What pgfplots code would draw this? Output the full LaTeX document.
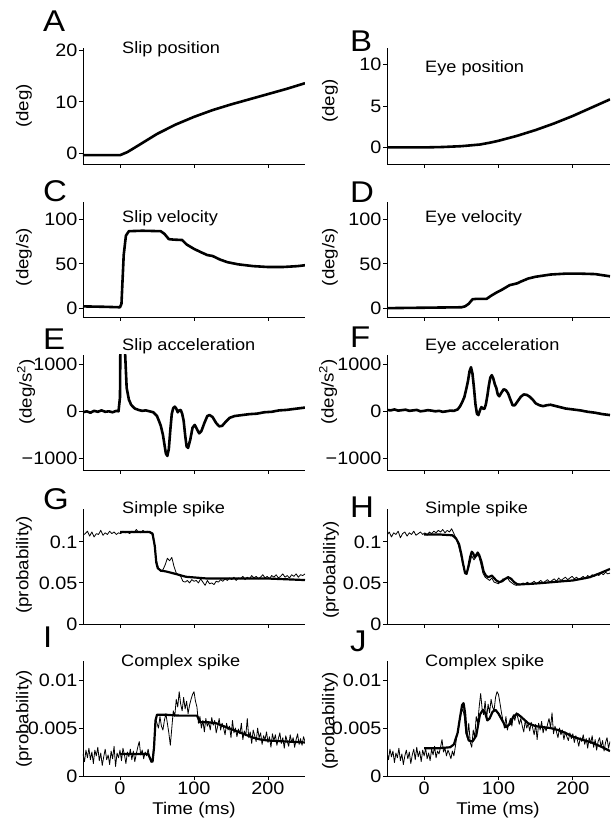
\documentclass[border=0pt]{standalone}
\usepackage{fontspec}
\setmainfont{Liberation Sans}[FakeStretch=1.1]
\usepackage{pgfplots}
\pgfplotsset{compat=1.18}
\pgfplotsset{panel/.style={
  scale only axis, width=222pt, height=115pt, xmin=-50, xmax=250,
  anchor=south west,
  axis x line=bottom, axis y line=left,
  axis line style={-, line width=0.9pt},
  every outer x axis line/.append style={-},
  every outer y axis line/.append style={-},
  xtick={0,100,200}, xticklabels={},
  scaled y ticks=false, scaled x ticks=false,
  tick align=outside, major tick length=4pt,
  tick style={line width=0.9pt, black},
  tick label style={font=\fontsize{18}{18}\selectfont},
  yticklabel style={inner sep=1.5pt},
  xticklabel style={inner sep=2pt},
  /pgf/number format/assume math mode=true,
  clip=true,
}, main/.style={black, no markers, line width=2.6pt, line join=round},
   mainb/.style={black, no markers, line width=2.2pt, line join=round},
   thin/.style={black, no markers, line width=0.8pt, line join=round}}
\begin{document}
\begin{tikzpicture}
\useasboundingbox (0pt,0pt) rectangle (611pt,825pt);
% ---------- A
\begin{axis}[panel, at={(83pt,661pt)}, height=116pt, ymin=-2, ymax=20.4, ytick={0,10,20}, yticklabels={0,10,20}]
\addplot[main] coordinates {(-50,-0.3) (0,-0.3) (10,0.3) (25,1.6) (50,3.8) (75,5.6) (100,7.1) (125,8.4) (150,9.5) (175,10.5) (200,11.5) (225,12.5) (250,13.6)};
\end{axis}
% ---------- B
\begin{axis}[panel, at={(387pt,661pt)}, width=223pt, height=116pt, ymin=-2, ymax=12, ytick={0,5,10}, yticklabels={0,5,10}]
\addplot[main] coordinates {(-50,0) (0,0) (25,0.05) (50,0.15) (75,0.35) (90,0.6) (100,0.8) (125,1.4) (150,2.1) (175,2.9) (200,3.8) (225,4.8) (250,5.8)};
\end{axis}
% ---------- C
\begin{axis}[panel, at={(83pt,508pt)}, ymin=-10, ymax=120, ytick={0,50,100}, yticklabels={0,50,100}]
\addplot[main] coordinates {(-50,2) (-20,1.5) (0,1) (2,5) (5,60) (8,82) (12,87) (30,87.5) (55,87) (60,84) (66,78) (72,77.5) (84,77) (90,72) (100,67) (110,63) (118,60) (125,59) (135,55) (145,52) (160,49.5) (180,47.5) (200,46.5) (220,46.5) (240,47.5) (250,48.5)};
\end{axis}
% ---------- D
\begin{axis}[panel, at={(387pt,508pt)}, width=223pt, ymin=-10, ymax=120, ytick={0,50,100}, yticklabels={0,50,100}]
\addplot[main] coordinates {(-50,0) (0,0.5) (50,1) (55,2) (60,5) (65,10) (70,10.5) (84,10.5) (90,14) (97,17.5) (105,21) (115,26) (125,28) (130,30) (140,33.5) (150,35.5) (170,38) (190,39) (210,39) (230,38.5) (250,36)};
\end{axis}
% ---------- E
\begin{axis}[panel, at={(83pt,355pt)}, ymin=-1250, ymax=1200, ytick={-1000,0,1000}, yticklabels={−1000,0,1000}]
\addplot[main] coordinates {(-50,-20) (-45,0) (-40,-30) (-35,10) (-30,-10) (-25,20) (-20,-10) (-15,0) (-10,-20) (-5,10) (-2,0) (0,300) (1,2500) (3,4000) (5,2500) (7,1200) (9,500) (12,250) (15,140) (20,60) (25,30) (30,10) (35,20) (40,0) (45,-20) (50,-100) (55,-300) (58,-500) (62,-900) (64,-950) (66,-800) (68,-400) (70,-50) (72,70) (74,100) (76,60) (78,-20) (80,20) (82,30) (84,-50) (86,-200) (88,-500) (90,-750) (92,-780) (95,-600) (98,-350) (101,-290) (104,-380) (107,-470) (110,-420) (114,-250) (118,-100) (121,-80) (125,-120) (130,-250) (134,-320) (138,-310) (143,-220) (148,-140) (155,-100) (165,-80) (175,-60) (185,-50) (195,-20) (205,-10) (215,20) (225,30) (235,50) (245,70) (250,80)};
\end{axis}
% ---------- F
\begin{axis}[panel, at={(387pt,355pt)}, width=223pt, ymin=-1250, ymax=1200, ytick={-1000,0,1000}, yticklabels={−1000,0,1000}]
\addplot[main] coordinates {(-50,30) (-45,20) (-40,40) (-35,15) (-30,25) (-25,35) (-20,10) (-15,20) (-10,30) (-5,0) (0,10) (5,25) (10,15) (15,0) (20,10) (25,-10) (30,0) (35,15) (40,10) (45,40) (48,100) (51,190) (54,300) (57,500) (59,650) (61,850) (63,940) (65,800) (67,500) (69,150) (71,-50) (73,-80) (75,20) (77,90) (79,60) (81,50) (83,150) (85,330) (87,550) (89,720) (91,770) (93,700) (95,580) (97,500) (99,360) (101,320) (104,400) (107,470) (110,450) (113,380) (116,250) (119,130) (122,130) (126,220) (130,310) (134,360) (138,350) (142,310) (146,250) (150,170) (155,130) (160,110) (165,130) (170,140) (175,120) (180,100) (185,80) (190,60) (200,40) (210,20) (220,-10) (230,-30) (240,-60) (250,-80)};
\end{axis}
% ---------- G
\begin{axis}[panel, at={(83pt,201pt)}, ymin=0, ymax=0.14, ytick={0,0.05,0.1}, yticklabels={0,0.05,0.1}]
\addplot[thin] coordinates {(-50,.108) (-47,.110) (-44,.113) (-41,.107) (-38,.112) (-35,.106) (-32,.110) (-29,.109) (-26,.114) (-23,.108) (-20,.111) (-17,.109) (-14,.113) (-11,.110) (-8,.112) (-5,.109) (-2,.111) (1,.110) (4,.113) (7,.111) (10,.112) (13,.110) (16,.113) (19,.111) (22,.115) (25,.112) (28,.111) (31,.114) (34,.112) (37,.113) (40,.111) (43,.110) (46,.100) (49,.078) (52,.068) (55,.064) (58,.066) (61,.072) (64,.080) (67,.077) (70,.081) (73,.070) (76,.062) (79,.060) (82,.058) (85,.052) (88,.051) (91,.053) (94,.050) (97,.054) (100,.052) (103,.053) (106,.050) (109,.055) (112,.051) (115,.047) (118,.053) (121,.049) (124,.050) (127,.048) (130,.052) (133,.051) (136,.054) (139,.052) (142,.055) (145,.053) (148,.056) (151,.054) (154,.057) (157,.053) (160,.056) (163,.055) (166,.058) (169,.054) (172,.057) (175,.055) (178,.059) (181,.056) (184,.058) (187,.055) (190,.057) (193,.060) (196,.056) (199,.058) (202,.055) (205,.059) (208,.057) (211,.060) (214,.056) (217,.058) (220,.061) (223,.057) (226,.059) (229,.056) (232,.060) (235,.058) (238,.061) (241,.057) (244,.060) (247,.059) (250,.061)};
\addplot[mainb] coordinates {(0,.112) (40,.112) (44,.110) (47,.095) (49,.075) (51,.068) (55,.065) (62,.064) (75,.061) (89,.0575) (116,.0555) (150,.0555) (196,.0555) (250,.0535)};
\end{axis}
% ---------- H
\begin{axis}[panel, at={(387pt,201pt)}, width=223pt, ymin=0, ymax=0.14, ytick={0,0.05,0.1}, yticklabels={0,0.05,0.1}]
\addplot[thin] coordinates {(-50,.108) (-47,.112) (-44,.106) (-41,.111) (-38,.109) (-35,.113) (-32,.105) (-29,.110) (-26,.112) (-23,.107) (-20,.111) (-17,.109) (-14,.113) (-11,.108) (-8,.110) (-5,.112) (-2,.109) (1,.111) (4,.108) (7,.112) (10,.110) (13,.113) (16,.111) (19,.114) (22,.112) (25,.115) (28,.111) (31,.114) (34,.112) (37,.116) (40,.110) (43,.104) (46,.096) (49,.085) (52,.072) (55,.064) (58,.063) (61,.072) (64,.083) (67,.078) (70,.082) (73,.084) (76,.074) (79,.062) (82,.057) (85,.055) (88,.053) (91,.056) (94,.051) (97,.050) (100,.049) (103,.052) (106,.055) (109,.054) (112,.056) (115,.052) (118,.050) (121,.048) (124,.047) (127,.049) (130,.048) (133,.050) (136,.049) (139,.051) (142,.048) (145,.050) (148,.052) (151,.049) (154,.051) (157,.053) (160,.050) (163,.052) (166,.054) (169,.051) (172,.053) (175,.055) (178,.052) (181,.056) (184,.053) (187,.055) (190,.057) (193,.054) (196,.056) (199,.058) (202,.055) (205,.057) (208,.054) (211,.056) (214,.058) (217,.055) (220,.059) (223,.057) (226,.060) (229,.058) (232,.061) (235,.059) (238,.062) (241,.060) (244,.063) (247,.061) (250,.062)};
\addplot[mainb] coordinates {(0,.109) (20,.109) (38,.108) (43,.104) (47,.097) (50,.085) (52,.075) (55,.062) (57,.061) (59,.068) (62,.082) (64,.088) (66,.086) (68,.081) (70,.084) (72,.087) (74,.084) (77,.076) (80,.064) (83,.059) (86,.057) (89,.058) (91,.059) (94,.056) (97,.053) (101,.051) (105,.052) (109,.055) (113,.057) (117,.055) (121,.051) (126,.048) (135,.0485) (146,.049) (160,.050) (173,.051) (186,.052) (200,.053) (212,.055) (223,.057) (237,.062) (250,.067)};
\end{axis}
% ---------- I
\begin{axis}[panel, at={(83pt,49pt)}, ymin=0, ymax=0.012, ytick={0,0.005,0.01}, yticklabels={0,0.005,0.01}, xticklabels={0,100,200}]
\addplot[thin] coordinates {(-50,.0023) (-48,.0015) (-46,.0027) (-44,.0019) (-42,.0029) (-40,.0017) (-38,.0025) (-36,.0013) (-34,.0027) (-32,.0021) (-30,.0030) (-28,.0016) (-26,.0024) (-24,.0011) (-22,.0020) (-20,.0028) (-18,.0017) (-16,.0022) (-14,.0012) (-12,.0026) (-10,.0018) (-8,.0031) (-6,.0010) (-4,.0024) (-2,.0019) (0,.0027) (2,.0016) (4,.0029) (6,.0022) (8,.0013) (10,.0025) (12,.0020) (14,.0028) (16,.0017) (18,.0026) (20,.0015) (22,.0023) (24,.0030) (26,.0036) (28,.0022) (30,.0027) (32,.0018) (34,.0025) (36,.0021) (38,.0028) (40,.0019) (42,.0014) (44,.0016) (46,.0035) (48,.0060) (50,.0055) (52,.0050) (54,.0062) (56,.0052) (58,.0048) (60,.0058) (62,.0065) (64,.0055) (66,.0045) (68,.0032) (70,.0050) (72,.0068) (74,.0062) (76,.0080) (78,.0072) (80,.0088) (82,.0075) (84,.0068) (86,.0082) (88,.0070) (90,.0078) (92,.0065) (94,.0074) (96,.0080) (98,.0085) (100,.0088) (102,.0078) (104,.0072) (106,.0055) (108,.0062) (110,.0050) (112,.0058) (114,.0046) (116,.0060) (118,.0052) (120,.0056) (122,.0048) (124,.0061) (126,.0053) (128,.0058) (130,.0045) (132,.0052) (134,.0060) (136,.0048) (138,.0055) (140,.0050) (142,.0043) (144,.0055) (146,.0048) (148,.0052) (150,.0040) (152,.0058) (154,.0045) (156,.0050) (158,.0041) (160,.0049) (162,.0044) (164,.0055) (166,.0038) (168,.0047) (170,.0042) (172,.0060) (174,.0040) (176,.0046) (178,.0034) (180,.0048) (182,.0042) (184,.0036) (186,.0050) (188,.0040) (190,.0045) (192,.0033) (194,.0042) (196,.0038) (198,.0046) (200,.0035) (202,.0041) (204,.0030) (206,.0044) (208,.0037) (210,.0043) (212,.0032) (214,.0039) (216,.0045) (218,.0034) (220,.0040) (222,.0029) (224,.0042) (226,.0036) (228,.0031) (230,.0043) (232,.0035) (234,.0040) (236,.0030) (238,.0038) (240,.0044) (242,.0033) (244,.0039) (246,.0032) (248,.0041) (250,.0036)};
\addplot[mainb] coordinates {(0,.0023) (20,.0023) (38,.0023) (42,.0016) (44,.0015) (46,.0030) (48,.0058) (50,.0064) (60,.0064) (80,.0063) (104,.0063) (106,.0060) (108,.0056) (120,.0056) (130,.0055) (140,.0052) (150,.0049) (160,.0046) (170,.0043) (180,.0040) (190,.0038) (200,.0037) (225,.0036) (250,.0035)};
\end{axis}
% ---------- J
\begin{axis}[panel, at={(387pt,49pt)}, width=223pt, ymin=0, ymax=0.012, ytick={0,0.005,0.01}, yticklabels={0,0.005,0.01}, xticklabels={0,100,200}]
\addplot[thin] coordinates {(-50,.0025) (-48,.0017) (-46,.0028) (-44,.0020) (-42,.0026) (-40,.0014) (-38,.0024) (-36,.0019) (-34,.0029) (-32,.0016) (-30,.0023) (-28,.0012) (-26,.0021) (-24,.0027) (-22,.0018) (-20,.0025) (-18,.0013) (-16,.0022) (-14,.0028) (-12,.0017) (-10,.0030) (-8,.0020) (-6,.0026) (-4,.0015) (-2,.0027) (0,.0021) (2,.0029) (4,.0018) (6,.0024) (8,.0016) (10,.0028) (12,.0022) (14,.0031) (16,.0019) (18,.0026) (20,.0023) (22,.0030) (24,.0038) (26,.0025) (28,.0029) (30,.0021) (32,.0027) (34,.0023) (36,.0018) (38,.0026) (40,.0021) (42,.0031) (44,.0042) (46,.0050) (48,.0060) (50,.0066) (52,.0070) (54,.0062) (56,.0045) (58,.0040) (60,.0055) (62,.0035) (64,.0030) (66,.0048) (68,.0040) (70,.0062) (72,.0055) (74,.0072) (76,.0086) (78,.0070) (80,.0064) (82,.0078) (84,.0060) (86,.0075) (88,.0066) (90,.0080) (92,.0072) (94,.0068) (96,.0082) (98,.0088) (100,.0085) (102,.0076) (104,.0066) (106,.0058) (108,.0050) (110,.0062) (112,.0048) (114,.0055) (116,.0060) (118,.0052) (120,.0064) (122,.0058) (124,.0066) (126,.0061) (128,.0054) (130,.0060) (132,.0052) (134,.0046) (136,.0058) (138,.0050) (140,.0055) (142,.0047) (144,.0056) (146,.0050) (148,.0043) (150,.0054) (152,.0038) (154,.0055) (156,.0048) (158,.0057) (160,.0045) (162,.0052) (164,.0047) (166,.0054) (168,.0060) (170,.0050) (172,.0066) (174,.0044) (176,.0052) (178,.0046) (180,.0040) (182,.0050) (184,.0043) (186,.0048) (188,.0038) (190,.0046) (192,.0041) (194,.0037) (196,.0045) (198,.0039) (200,.0044) (202,.0035) (204,.0042) (206,.0038) (208,.0031) (210,.0040) (212,.0036) (214,.0043) (216,.0033) (218,.0039) (220,.0029) (222,.0040) (224,.0034) (226,.0042) (228,.0030) (230,.0038) (232,.0027) (234,.0036) (236,.0040) (238,.0030) (240,.0037) (242,.0026) (244,.0035) (246,.0040) (248,.0029) (250,.0036)};
\addplot[mainb] coordinates {(0,.0029) (20,.0029) (35,.0030) (40,.0033) (45,.0045) (48,.0060) (51,.0074) (53,.0076) (55,.0066) (57,.0045) (60,.0037) (65,.0036) (70,.0042) (75,.0064) (79,.0069) (82,.0066) (85,.0058) (88,.0060) (92,.0067) (96,.0069) (100,.0065) (105,.0058) (110,.0051) (115,.0054) (120,.0062) (125,.0065) (130,.0062) (140,.0055) (150,.0052) (160,.0051) (170,.0050) (180,.0048) (190,.0045) (200,.0041) (212,.0038) (225,.0035) (237,.0031) (250,.0026)};
\end{axis}
% ---------- titles
\tikzset{ttl/.style={anchor=base west, inner sep=0pt, font=\fontsize{16.5}{16.5}\selectfont},
         lett/.style={anchor=base west, inner sep=0pt, font=\fontsize{30}{30}\selectfont},
         ylab/.style={rotate=90, anchor=center, inner sep=0pt, font=\fontsize{17}{17}\selectfont}}
\node[ttl] at (122pt,771pt) {Slip position};
\node[ttl] at (425pt,752pt) {Eye position};
\node[ttl] at (122pt,602pt) {Slip velocity};
\node[ttl] at (425pt,602pt) {Eye velocity};
\node[ttl] at (122pt,474pt) {Slip acceleration};
\node[ttl] at (425pt,474pt) {Eye acceleration};
\node[ttl] at (122pt,311pt) {Simple spike};
\node[ttl] at (425pt,311pt) {Simple spike};
\node[ttl] at (121pt,158pt) {Complex spike};
\node[ttl] at (425pt,158pt) {Complex spike};
% letters
\node[lett] at (43pt,793pt) {A};
\node[lett] at (350pt,773pt) {B};
\node[lett] at (43pt,623pt) {C};
\node[lett] at (350pt,622pt) {D};
\node[lett] at (43pt,475pt) {E};
\node[lett] at (350pt,477pt) {F};
\node[lett] at (43pt,315pt) {G};
\node[lett] at (350pt,307pt) {H};
\node[lett] at (43pt,177pt) {I};
\node[lett] at (350pt,173pt) {J};
% y labels
\node[ylab] at (24pt,719pt) {(deg)};
\node[ylab] at (330pt,724pt) {(deg)};
\node[ylab] at (24pt,568pt) {(deg/s)};
\node[ylab] at (330pt,568pt) {(deg/s)};
\node[ylab] at (26pt,433pt) {(deg/s\textsuperscript{2})};
\node[ylab] at (328pt,433pt) {(deg/s\textsuperscript{2})};
\node[ylab] at (24pt,260pt) {(probability)};
\node[ylab] at (331pt,255pt) {(probability)};
\node[ylab] at (24pt,106pt) {(probability)};
\node[ylab] at (330pt,104pt) {(probability)};
% x labels
\node[anchor=base, inner sep=0pt, font=\fontsize{17}{17}\selectfont] at (194pt,10pt) {Time (ms)};
\node[anchor=base, inner sep=0pt, font=\fontsize{17}{17}\selectfont] at (498pt,10pt) {Time (ms)};
\end{tikzpicture}
\end{document}
